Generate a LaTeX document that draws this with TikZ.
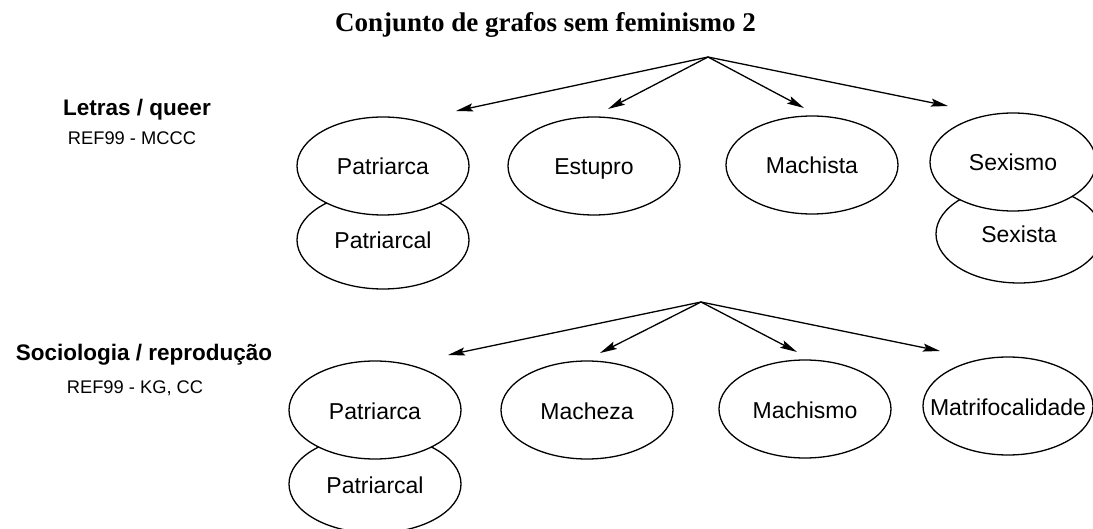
\documentclass[tikz,border=0pt]{standalone}
\usepackage{fontspec}
\setmainfont{Liberation Sans}
\newfontfamily\titlefont{Liberation Serif}
\usetikzlibrary{shapes.geometric,arrows.meta}

\begin{document}
\begin{tikzpicture}[x=1pt, y=-1pt,
    arrow/.style={-{Stealth[length=17pt,width=8pt,inset=3pt]}, line width=1.3pt},
    word/.style={ellipse, draw, line width=1.3pt, fill=white, minimum width=172pt,
        minimum height=98pt, inner sep=0pt, text height=18pt, text depth=0pt,
        font=\fontsize{23}{27}\selectfont},
    area/.style={anchor=base, font=\fontsize{22.5}{26}\selectfont\bfseries},
    ref/.style={anchor=base, font=\fontsize{18.3}{22}\selectfont}]
    \useasboundingbox (0, 0) rectangle (1093, 529);

    \node[anchor=base, font=\fontsize{27}{31}\selectfont\titlefont\bfseries] (title) at (545.5, 31.5) {Conjunto de grafos sem feminismo 2};

    \node[area] (letras) at (137, 116) {Letras / queer};
    \node[ref] (letrasref) at (132, 145) {REF99 - MCCC};
    \node[area] (socio) at (144, 361) {Sociologia / reprodução};
    \node[ref] (socioref) at (135, 394) {REF99 - KG, CC};

    \node[word] (patriarcal) at (383, 240) {Patriarcal};
    \node[word] (patriarca) at (383, 166) {Patriarca};
    \node[word] (estupro) at (594, 166) {Estupro};
    \node[word] (machista) at (812, 165) {Machista};
    \node[word, minimum width=166pt] (sexista) at (1019, 234) {Sexista};
    \node[word, minimum width=166pt] (sexismo) at (1013, 162) {Sexismo};

    \node[word] (patriarcalB) at (375, 484) {Patriarcal};
    \node[word] (patriarcaB) at (375, 410) {Patriarca};
    \node[word] (macheza) at (587, 410) {Macheza};
    \node[word] (machismo) at (805, 409) {Machismo};
    \node[word, minimum width=170pt, inner xsep=-18pt] (matri) at (1008, 406) {Matrifocalidade};

    \coordinate (top) at (708, 57);
    \coordinate (t1) at (456, 111);
    \coordinate (t2) at (608, 109);
    \coordinate (t3) at (804, 108);
    \coordinate (t4) at (948, 106);
    \draw[arrow] (top) -- (t1);
    \draw[arrow] (top) -- (t2);
    \draw[arrow] (top) -- (t3);
    \draw[arrow] (top) -- (t4);

    \coordinate (bottom) at (701, 302);
    \coordinate (b1) at (448, 355);
    \coordinate (b2) at (600, 353);
    \coordinate (b3) at (797, 352);
    \coordinate (b4) at (940, 351);
    \draw[arrow] (bottom) -- (b1);
    \draw[arrow] (bottom) -- (b2);
    \draw[arrow] (bottom) -- (b3);
    \draw[arrow] (bottom) -- (b4);
\end{tikzpicture}
\end{document}
